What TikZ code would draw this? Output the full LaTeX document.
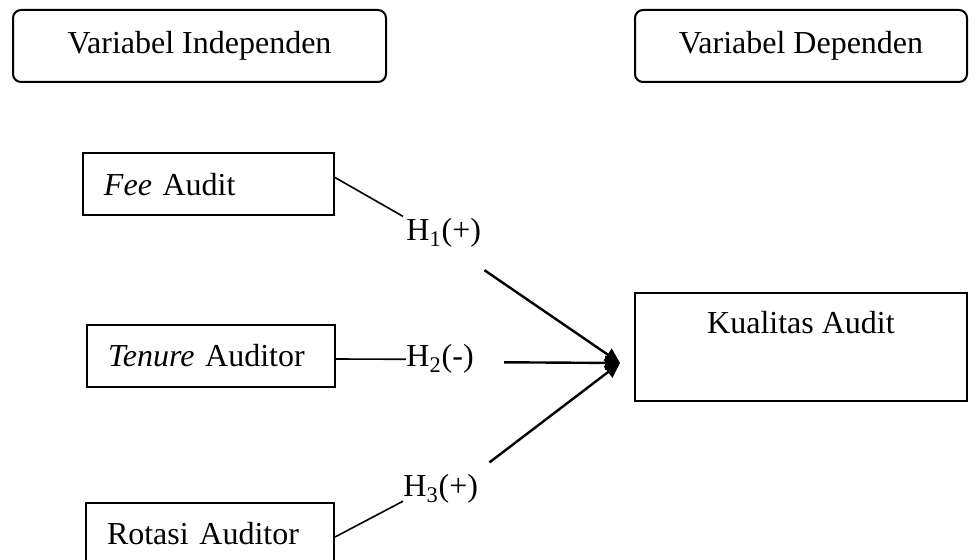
\documentclass[tikz,border=0pt]{standalone}
\usepackage{fontspec}
\setmainfont{Liberation Serif}
\usetikzlibrary{arrows.meta,calc}
\begin{document}
\begin{tikzpicture}[x=0.5pt,y=-0.5pt,
			font=\fontsize{16}{19}\selectfont,
			judul/.style={draw, line width=1pt, rounded corners=4pt, minimum height=36pt, inner sep=0pt},
			varbox/.style={draw, line width=1pt, minimum height=31pt, inner xsep=10.5pt, inner ysep=0pt, align=left},
			hipo/.style={inner sep=0pt, anchor=base west},
			link/.style={line width=0.8pt},
			panah/.style={line width=1.2pt, -{Triangle[length=7.5pt,width=7pt]}}]
			\useasboundingbox (0,0) rectangle (976,560);
			\clip (0,0) rectangle (976,560);
			%---------------- JUDUL ----------------
			\node[judul, minimum width=186.5pt] (indep) at (199.5,46) {Variabel Independen};
			\node[judul, minimum width=166pt] (dep) at (801,46) {Variabel Dependen};
			%---------------- VARIABEL ----------------
			\node[varbox, text width=104.5pt] (fee) at (208.5,184.5) {\textit{Fee} Audit};
			\node[varbox, text width=103pt] (tenure) at (211,356) {\textit{Tenure} Auditor};
			\node[varbox, text width=103pt] (rotasi) at (210,534) {Rotasi Auditor};
			\node[draw, line width=1pt, anchor=north, minimum width=166pt, inner sep=0pt,
				text height=20.5pt, text depth=33.5pt] (kualitas) at (801,292) {Kualitas Audit};
			%---------------- HIPOTESIS ----------------
			\node[hipo] (h1) at (406,241) {H\textsubscript{1}(+)};
			\node[hipo] (h2) at (406,367) {H\textsubscript{2}(-)};
			\node[hipo] (h3) at (403,497) {H\textsubscript{3}(+)};
			\coordinate (tip) at (620,363);
			%---------------- GARIS ----------------
			\draw[link] ([yshift=3.5pt]fee.east) -- ([shift={(-1.5pt,1pt)}]h1.north west);
			\draw[panah] ([shift={(1.5pt,-11pt)}]h1.south east) -- (tip);
			\draw[link] ([yshift=-1.5pt]tenure.east) -- (h2.west);
			\draw[panah] ([shift={(15pt,-1.5pt)}]h2.east) -- (tip);
			\draw[link] ([yshift=-1.5pt]rotasi.east) -- ([yshift=1.5pt]h3.south west);
			\draw[panah] ([shift={(5.5pt,6pt)}]h3.north east) -- (tip);
		\end{tikzpicture}
\end{document}
